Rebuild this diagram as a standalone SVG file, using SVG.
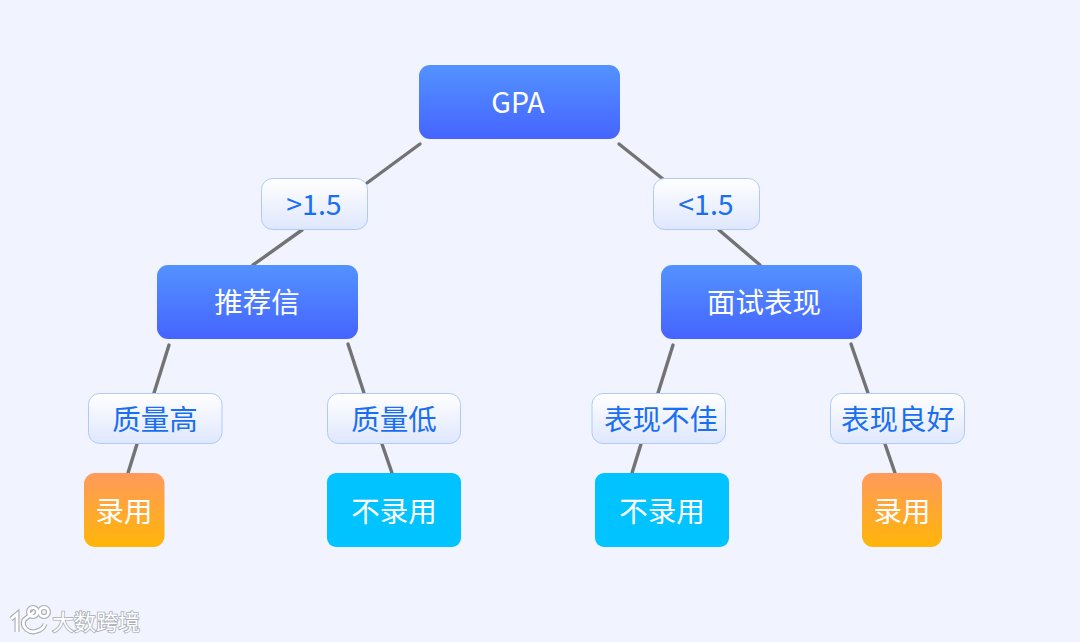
<svg xmlns="http://www.w3.org/2000/svg" width="1080" height="642" viewBox="0 0 1080 642">
<style>
text{font-family:"Noto Sans CJK SC","Noto Sans",sans-serif;text-anchor:middle}
.t{font-size:28.500px;fill:#fff}
.l{font-size:28.500px;fill:#1a6ff0}
.blue{fill:url(#gb)}
.org{fill:url(#go)}
.cy{fill:#00c3ff}
.lab{fill:url(#gl);stroke:#aecaf8;stroke-width:1}
#connectors line{stroke:#737373;stroke-width:3.400;stroke-linecap:round}
.wm{font-size:22px;fill:#fff;stroke:#a9acb4;stroke-width:1.600;paint-order:stroke}
.lg{fill:none;stroke:#fff;stroke-width:2.800}
.lgo{fill:none;stroke:#a9acb4;stroke-width:5}
</style>
<defs>
<linearGradient id="gb" x1="0" y1="0" x2="0" y2="1"><stop offset="0" stop-color="#5392ff"/><stop offset="1" stop-color="#4564ff"/></linearGradient>
<linearGradient id="go" x1="0" y1="0" x2="0" y2="1"><stop offset="0" stop-color="#ff9a5c"/><stop offset="1" stop-color="#ffb508"/></linearGradient>
<linearGradient id="gl" x1="0" y1="0" x2="0" y2="1"><stop offset="0" stop-color="#fff"/><stop offset="1" stop-color="#dfe7fd"/></linearGradient>
</defs>
<rect width="1080" height="642" fill="#f1f4fe"/>
<g id="connectors">
<line x1="420" y1="144" x2="367" y2="183"/>
<line x1="302" y1="230" x2="253" y2="265"/>
<line x1="619" y1="144" x2="668" y2="183"/>
<line x1="719" y1="230" x2="760" y2="265"/>
<line x1="169" y1="345" x2="154" y2="393"/>
<line x1="348" y1="344" x2="364" y2="393"/>
<line x1="673" y1="345" x2="658" y2="393"/>
<line x1="851" y1="344" x2="868" y2="393"/>
<line x1="137" y1="444" x2="128" y2="473"/>
<line x1="382" y1="444" x2="392" y2="473"/>
<line x1="641" y1="444" x2="632" y2="473"/>
<line x1="885" y1="444" x2="895" y2="473"/>
</g>
<g id="n-gpa"><rect class="blue" x="419" y="65" width="201" height="74" rx="11"/><text class="t" x="518" y="113">GPA</text></g>
<g id="l-gt"><rect class="lab" x="261.500" y="178.500" width="106" height="51" rx="11"/><text class="l" x="314" y="215">&gt;1.5</text></g>
<g id="l-lt"><rect class="lab" x="653.500" y="178.500" width="106" height="51" rx="11"/><text class="l" x="706" y="215">&lt;1.5</text></g>
<g id="n-letter"><rect class="blue" x="157" y="265" width="201" height="74" rx="11"/><text class="t" x="257" y="313">推荐信</text></g>
<g id="n-interview"><rect class="blue" x="661" y="265" width="201" height="74" rx="11"/><text class="t" x="764" y="313">面试表现</text></g>
<g id="l-high"><rect class="lab" x="88.500" y="393.500" width="133.500" height="50" rx="11"/><text class="l" x="155" y="430">质量高</text></g>
<g id="l-low"><rect class="lab" x="327.500" y="393.500" width="133" height="50" rx="11"/><text class="l" x="394" y="430">质量低</text></g>
<g id="l-poor"><rect class="lab" x="592" y="393.500" width="133.500" height="50" rx="11"/><text class="l" x="661" y="430">表现不佳</text></g>
<g id="l-good"><rect class="lab" x="830.500" y="393.500" width="134" height="50" rx="11"/><text class="l" x="898" y="430">表现良好</text></g>
<g id="n-hire1"><rect class="org" x="84" y="473" width="80.500" height="74" rx="11"/><text class="t" x="124" y="522">录用</text></g>
<g id="n-no1"><rect class="cy" x="327" y="473" width="134" height="74" rx="9"/><text class="t" x="394" y="522">不录用</text></g>
<g id="n-no2"><rect class="cy" x="595" y="473" width="134" height="74" rx="9"/><text class="t" x="662" y="522">不录用</text></g>
<g id="n-hire2"><rect class="org" x="862" y="473" width="80" height="74" rx="11"/><text class="t" x="902" y="522">录用</text></g>
<g id="watermark">
<path class="lgo" d="M11 619 L17 614 V632 M34 612 L24 620 C21 628 30 634 37 631 C41 630 44 627 45 624"/>
<circle class="lgo" cx="33" cy="612" r="4.500"/><circle class="lgo" cx="44" cy="612" r="4.500"/>
<path class="lg" d="M11 619 L17 614 V632 M34 612 L24 620 C21 628 30 634 37 631 C41 630 44 627 45 624"/>
<circle class="lg" cx="33" cy="612" r="4.500"/><circle class="lg" cx="44" cy="612" r="4.500"/>
<text class="wm" x="96" y="630">大数跨境</text>
</g>
</svg>
